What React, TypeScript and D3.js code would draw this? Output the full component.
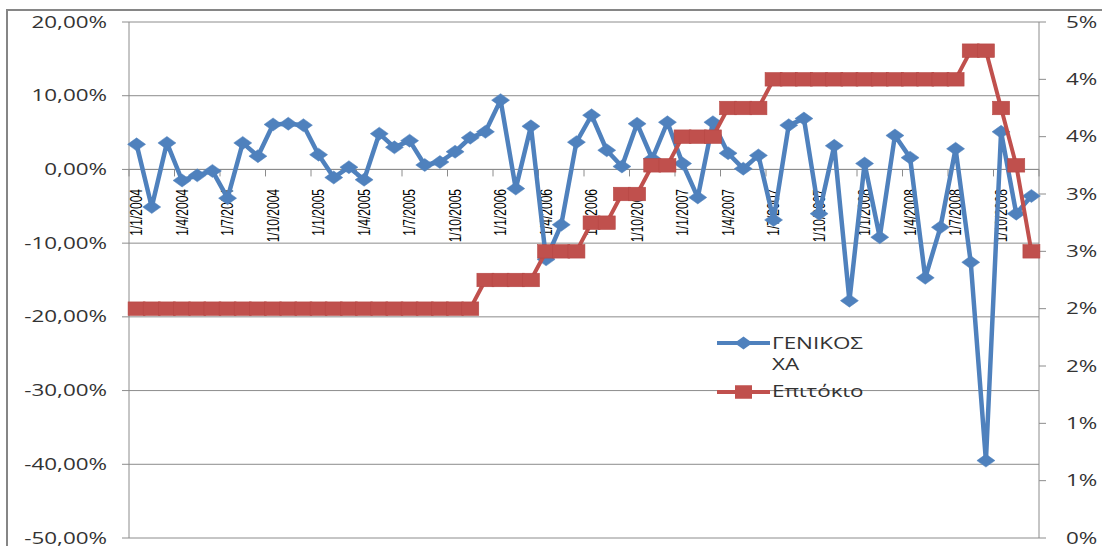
import React from 'react';
import * as d3 from 'd3';

const W = 1102;
const H = 546;

// Monthly categories, Jan 2004 – Dec 2008
const months: string[] = d3.range(60).map(
  (i) => `1/${(i % 12) + 1}/${2004 + Math.floor(i / 12)}`
);

// Labels shown every third month
const xTickLabels = [
  '1/1/2004', '1/4/2004', '1/7/2004', '1/10/2004',
  '1/1/2005', '1/4/2005', '1/7/2005', '1/10/2005',
  '1/1/2006', '1/4/2006', '1/7/2006', '1/10/2006',
  '1/1/2007', '1/4/2007', '1/7/2007', '1/10/2007',
  '1/1/2008', '1/4/2008', '1/7/2008', '1/10/2008',
];

// Monthly return of the general index (%)
const generalIndex = [
  3.4, -5.1, 3.6, -1.5, -0.8, -0.2, -3.9, 3.6, 1.8, 6.1, 6.2, 6.0,
  2.0, -1.1, 0.3, -1.4, 4.85, 3.0, 3.9, 0.6, 1.0, 2.4, 4.3, 5.1,
  9.4, -2.6, 5.85, -12.2, -7.5, 3.7, 7.35, 2.6, 0.4, 6.2, 1.45, 6.4,
  0.8, -3.8, 6.4, 2.2, 0.1, 1.9, -6.85, 6.0, 6.9, -6.0, 3.2, -17.8,
  0.8, -9.2, 4.6, 1.6, -14.7, -7.85, 2.8, -12.6, -39.5, 5.1, -6.0, -3.6,
];

// Interest rate (%)
const interestRate = [
  2.0, 2.0, 2.0, 2.0, 2.0, 2.0, 2.0, 2.0, 2.0, 2.0, 2.0, 2.0,
  2.0, 2.0, 2.0, 2.0, 2.0, 2.0, 2.0, 2.0, 2.0, 2.0, 2.0, 2.25,
  2.25, 2.25, 2.25, 2.5, 2.5, 2.5, 2.75, 2.75, 3.0, 3.0, 3.25, 3.25,
  3.5, 3.5, 3.5, 3.75, 3.75, 3.75, 4.0, 4.0, 4.0, 4.0, 4.0, 4.0,
  4.0, 4.0, 4.0, 4.0, 4.0, 4.0, 4.0, 4.25, 4.25, 3.75, 3.25, 2.5,
];

const leftTicks = [-50, -40, -30, -20, -10, 0, 10, 20];
const rightTicks = [0, 0.5, 1, 1.5, 2, 2.5, 3, 3.5, 4, 4.5];
const rightTickLabels = ['0%', '1%', '1%', '2%', '2%', '3%', '3%', '4%', '4%', '5%'];

const seriesNames = ['ΓΕΝΙΚΟΣ ΧΑ', 'Επιτόκιο'];

const BLUE = '#4F81BD';
const RED = '#C0504D';
const GRID = '#8c8c8c';
const TEXT = '#333333';
const SX = 1.4; // horizontal text stretch

const plot = { left: 129, right: 1039, top: 22, bottom: 538 };

const x = d3.scaleBand<number>().domain(d3.range(months.length)).range([plot.left, plot.right]);
const cx = (i: number) => (x(i) as number) + x.bandwidth() / 2;
const yL = d3.scaleLinear().domain([-50, 20]).range([plot.bottom, plot.top]);
const yR = d3.scaleLinear().domain([0, 4.5]).range([plot.bottom, plot.top]);

const lineL = d3.line<number>().x((_, i) => cx(i)).y((d) => yL(d));
const lineR = d3.line<number>().x((_, i) => cx(i)).y((d) => yR(d));

const fmtLeft = (v: number) => v.toFixed(2).replace('.', ',') + '%';

const diamond = 'M0,-6.5L9,0L0,6.5L-9,0Z';

export default function App() {
  const font = '"Open Sans", "DejaVu Sans", sans-serif';
  const xTickIdx = d3.range(0, months.length + 1, 3);
  return (
    <svg
      width={W}
      height={H}
      style={{ position: 'absolute', left: 0, top: 0, background: '#fff' }}
      fontFamily={font}
    >
      <rect x={0} y={0} width={W} height={H} fill="#fff" />
      {/* chart frame */}
      <rect x={7} y={10} width={1102} height={545} fill="none" stroke="#868686" strokeWidth={2} />

      {/* horizontal gridlines */}
      {leftTicks.map((t) => (
        <line key={'g' + t} x1={plot.left} x2={plot.right} y1={yL(t)} y2={yL(t)} stroke={GRID} strokeWidth={1} />
      ))}

      {/* left axis */}
      <line x1={plot.left} x2={plot.left} y1={plot.top} y2={plot.bottom} stroke={GRID} strokeWidth={1} />
      {leftTicks.map((t) => (
        <g key={'l' + t}>
          <line x1={plot.left - 7} x2={plot.left} y1={yL(t)} y2={yL(t)} stroke={GRID} />
          <g transform={`translate(107,${yL(t)}) scale(${SX},1)`}>
            <text textAnchor="end" dy="0.35em" fontSize={16} fill={TEXT}>
              {fmtLeft(t)}
            </text>
          </g>
        </g>
      ))}

      {/* right axis */}
      <line x1={plot.right} x2={plot.right} y1={plot.top} y2={plot.bottom} stroke={GRID} strokeWidth={1} />
      {rightTicks.map((t, i) => (
        <g key={'r' + t}>
          <line x1={plot.right} x2={plot.right + 7} y1={yR(t)} y2={yR(t)} stroke={GRID} />
          <g transform={`translate(1066,${yR(t)}) scale(${SX},1)`}>
            <text textAnchor="start" dy="0.35em" fontSize={16} fill={TEXT}>
              {rightTickLabels[i]}
            </text>
          </g>
        </g>
      ))}

      {/* category axis at zero */}
      <line x1={plot.left} x2={plot.right} y1={yL(0)} y2={yL(0)} stroke={GRID} strokeWidth={1} />
      {xTickIdx.map((k) => {
        const xx = k < months.length ? (x(k) as number) : plot.right;
        return <line key={'xt' + k} x1={xx} x2={xx} y1={yL(0)} y2={yL(0) + 7} stroke={GRID} />;
      })}
      {xTickLabels.map((lab, j) => (
        <g key={'xl' + lab} transform={`translate(${cx(j * 3)},189) scale(1.3,1) rotate(-90)`}>
          <text textAnchor="end" dy="0.35em" fontSize={12} fontFamily='"Liberation Sans", Arial, sans-serif' fill="#000">
            {lab}
          </text>
        </g>
      ))}

      {/* general index series */}
      <path d={lineL(generalIndex) || ''} fill="none" stroke={BLUE} strokeWidth={4.5} strokeLinejoin="round" />
      {generalIndex.map((v, i) => (
        <path key={'b' + i} d={diamond} transform={`translate(${cx(i)},${yL(v)})`} fill={BLUE} stroke={BLUE} strokeWidth={0.5} />
      ))}

      {/* interest rate series */}
      <path d={lineR(interestRate) || ''} fill="none" stroke={RED} strokeWidth={4} strokeLinejoin="round" />
      {interestRate.map((v, i) => (
        <rect key={'r' + i} x={cx(i) - 8.5} y={yR(v) - 6.75} width={17} height={13.5} fill={RED} stroke="#b64845" strokeWidth={0.6} />
      ))}

      {/* legend */}
      <g>
        <line x1={717} x2={770} y1={343} y2={343} stroke={BLUE} strokeWidth={4} />
        <path d={diamond} transform="translate(743.5,343)" fill={BLUE} />
        <g transform={`translate(772,349) scale(${SX},1)`}>
          <text fontSize={16} fill={TEXT}>{seriesNames[0].split(' ')[0]}</text>
        </g>
        <g transform={`translate(772,370) scale(${SX},1)`}>
          <text fontSize={16} fill={TEXT}>{seriesNames[0].split(' ')[1]}</text>
        </g>
        <line x1={717} x2={770} y1={392} y2={392} stroke={RED} strokeWidth={4} />
        <rect x={743.5 - 8.5} y={392 - 6.75} width={17} height={13.5} fill={RED} />
        <g transform={`translate(772,397) scale(${SX},1)`}>
          <text fontSize={16} fill={TEXT}>{seriesNames[1]}</text>
        </g>
      </g>
    </svg>
  );
}
